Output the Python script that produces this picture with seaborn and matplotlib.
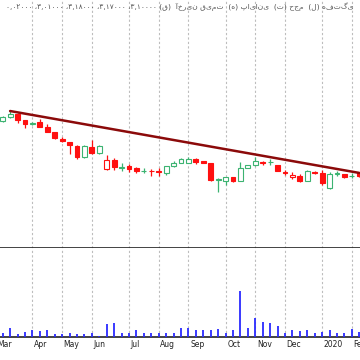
import pandas as pd
import numpy as np
import matplotlib.pyplot as plt
import matplotlib.transforms as mtransforms
import seaborn as sns

# weekly candles, first week is just left of the visible area
weeks = pd.date_range("2019-03-03", periods=50, freq="7D")

open_ = [2560, 2580, 2660, 2720, 2600, 2520, 2554, 2466, 2354, 2220,
         2154, 2086, 1866, 2054, 1934, 1620, 1800, 1648, 1680, 1634,
         1580, 1586, 1574, 1534, 1680, 1746, 1746, 1820, 1780, 1734,
         1410, 1386, 1454, 1386, 1646, 1700, 1766, 1760, 1700, 1566,
         1454, 1480, 1386, 1566, 1546, 1234, 1526, 1520, 1480, 1534]
high = [2640, 2680, 2790, 2740, 2610, 2570, 2614, 2514, 2370, 2266,
        2170, 2100, 2100, 2200, 2100, 1910, 1834, 1740, 1720, 1666,
        1634, 1620, 1634, 1690, 1786, 1840, 1866, 1846, 1790, 1740,
        1440, 1470, 1460, 1766, 1710, 1866, 1780, 1814, 1710, 1600,
        1566, 1520, 1600, 1576, 1600, 1560, 1580, 1530, 1534, 1550]
low = [2520, 2560, 2650, 2540, 2450, 2500, 2454, 2354, 2214, 2166,
       1920, 1820, 1840, 1920, 1920, 1610, 1600, 1586, 1566, 1546,
       1534, 1480, 1480, 1500, 1670, 1740, 1740, 1720, 1740, 1380,
       1166, 1300, 1370, 1380, 1640, 1690, 1700, 1700, 1580, 1500,
       1414, 1366, 1380, 1524, 1300, 1230, 1480, 1434, 1446, 1470]
close = [2600, 2660, 2720, 2600, 2514, 2540, 2466, 2366, 2234, 2180,
         2100, 1866, 2086, 1934, 2086, 1800, 1654, 1660, 1620, 1580,
         1590, 1576, 1564, 1680, 1746, 1814, 1820, 1754, 1746, 1400,
         1430, 1454, 1386, 1634, 1700, 1780, 1734, 1770, 1586, 1534,
         1500, 1386, 1580, 1534, 1346, 1520, 1534, 1454, 1486, 1480]
volume = [50, 40, 90, 33, 50, 73, 67, 73, 33, 30,
          47, 33, 33, 47, 13, 133, 147, 47, 47, 73,
          47, 47, 47, 47, 47, 90, 97, 73, 73, 73,
          83, 47, 73, 463, 97, 197, 157, 140, 113, 47,
          73, 63, 73, 40, 57, 73, 47, 47, 83, 50]

trend_x = [2, 49]
trend_y = [2780, 1542]

title = ("۰,۰۲۰۰۰ ،۳,۰۱۰۰۰ ،۳,۱۸۰۰۰ ،۳,۱۷۰۰۰ ،۳,۱۰۰۰۰ (ق)  "
         "آخرین قیمت  (ه) پایانی  (ت) حجم  (ل) هفتگی")

sns.set_theme(style="white")
plt.rcParams["font.family"] = ["DejaVu Sans"]

idx = np.arange(len(weeks))
o = np.array(open_, float)
c = np.array(close, float)
prev = np.r_[c[0], c[:-1]]
hollow = c > o
up = c >= prev
red, green = "#ff1010", "#3cb371"
edge = [green if u else red for u in up]
face = ["white" if h else e for h, e in zip(hollow, edge)]

# month ticks at first week of each month
month_idx, month_lab = [], []
for i, d in enumerate(weeks):
    if i == 0 or d.month != weeks[i - 1].month:
        month_idx.append(i)
        month_lab.append(str(d.year) if d.month == 1 else d.strftime("%b"))

fig = plt.figure(figsize=(3.6, 3.6), dpi=100)
ax = fig.add_axes([0, 0.311, 1, 0.689])
axv = fig.add_axes([0, 0.063, 1, 0.248])

ax.vlines(idx, low, high, colors=edge, lw=0.9, zorder=2)
body = np.where(np.abs(c - o) < 4, 4, c - o)
ax.bar(idx, body, bottom=o, width=0.66, color=face, edgecolor=edge,
       linewidth=0.8, zorder=3)
sns.lineplot(x=trend_x, y=trend_y, ax=ax, color="#8b0a0a", lw=1.8, zorder=4)

axv.vlines(idx, 0, volume, colors="#2a2aff", lw=1.3, zorder=3)

for a in (ax, axv):
    a.set_xticks(month_idx)
    a.set_xlim(0.64, 49.1)
    a.set_yticks([])
    a.set_xlabel("")
    a.set_ylabel("")
    a.grid(axis="x", color="#bdbdbd", linestyle=(0, (2, 2)), lw=0.8)
    for s in ("left", "right", "top"):
        a.spines[s].set_visible(False)
    a.spines["bottom"].set_color("#222222")
    a.spines["bottom"].set_linewidth(1.2)

ax.set_ylim(40, 5000)
ax.tick_params(axis="x", length=0, labelbottom=False)
axv.set_ylim(0, 890)
axv.tick_params(axis="x", length=8, width=1.3, color="#666666",
                direction="out", labelbottom=False)

trans = mtransforms.blended_transform_factory(axv.transData, axv.transAxes)
for i, lab in zip(month_idx, month_lab):
    axv.text(i + 0.22, -0.085, lab, transform=trans, fontsize=5.5,
             ha="left", va="center", color="#222222")

ax.text(0.5, 0.972, title, transform=ax.transAxes, ha="center", va="center",
        fontsize=5.4, color="#555555")

fig.savefig("out.png", dpi=100)
